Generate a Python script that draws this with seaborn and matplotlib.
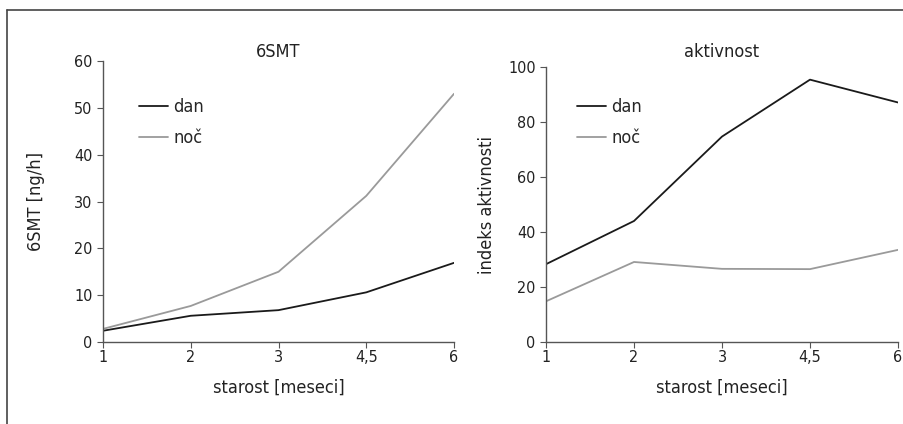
import matplotlib
matplotlib.use("Agg")
import matplotlib.pyplot as plt
import seaborn as sns
import pandas as pd
from matplotlib.lines import Line2D

months = ["1", "2", "3", "4,5", "6"]
smt_dan = [2.4, 5.6, 6.8, 10.6, 16.9]
smt_noc = [2.8, 7.7, 15.0, 31.2, 53.0]
akt_dan = [28.3, 44.0, 74.7, 95.4, 87.1]
akt_noc = [14.8, 29.1, 26.6, 26.5, 33.5]
series = ["dan", "noč"]

sns.set_theme(style="ticks")
plt.rcParams["font.family"] = ["DejaVu Sans"]
plt.rcParams["font.stretch"] = "condensed"

colors = {"dan": "#1a1a1a", "noč": "#9a9a9a"}

def make_df(dan, noc):
    return pd.DataFrame({
        "starost": months * 2,
        "value": dan + noc,
        "serija": ["dan"] * len(months) + ["noč"] * len(months),
    })

fig = plt.figure(figsize=(9.04, 4.24), dpi=100)
W, H = 904, 424
ax1 = fig.add_axes([103 / W, 1 - 342 / H, (454 - 103) / W, (342 - 61) / H])
ax2 = fig.add_axes([546 / W, 1 - 342 / H, (898 - 546) / W, (342 - 67) / H])

panels = [
    (ax1, make_df(smt_dan, smt_noc), "6SMT", "6SMT [ng/h]", (0, 60), [0, 10, 20, 30, 40, 50, 60], 61),
    (ax2, make_df(akt_dan, akt_noc), "aktivnost", "indeks aktivnosti", (0, 100), [0, 20, 40, 60, 80, 100], 67),
]

for ax, df, title, ylabel, ylim, yticks, top in panels:
    sns.lineplot(data=df, x="starost", y="value", hue="serija", palette=colors,
                 linewidth=1.3, ax=ax, legend=False, sort=False)
    ax.set_xlim(0, len(months) - 1)
    ax.set_ylim(*ylim)
    ax.set_yticks(yticks)
    hpx = 342 - top
    pos = ax.get_position()
    fig.text(pos.x0 + pos.width / 2, 1 - 52 / H, title, fontsize=13, ha="center", va="center", color="#222222")
    ax.set_xlabel("starost [meseci]", fontsize=13, color="#222222")
    ax.set_ylabel(ylabel, fontsize=13, color="#222222")
    ax.xaxis.set_label_coords(0.5, -(379 - 342) / hpx)
    for s in ["top", "right"]:
        ax.spines[s].set_visible(False)
    for s in ["left", "bottom"]:
        ax.spines[s].set_color("#555555")
        ax.spines[s].set_linewidth(1.0)
    ax.tick_params(axis="both", labelsize=11.5, length=4, width=0.8, color="#555555", colors="#222222")
    ax.tick_params(axis="x", pad=2)
    handles = [Line2D([], [], color=colors[s], lw=1.3) for s in series]
    lx = (139 - 103) / 351 if ax is ax1 else (577 - 546) / 352
    ly = (342 - 98) / hpx
    ax.legend(handles, series, loc="upper left", bbox_to_anchor=(lx, ly), frameon=False,
              fontsize=13, handlelength=1.6, handletextpad=0.3, labelspacing=0.71,
              borderpad=0, borderaxespad=0)

ax1.yaxis.set_label_coords(-(103 - 45) / 351, 0.5)
ax2.yaxis.set_label_coords(-(546 - 496) / 352, 0.5)

# frame lines of figure (top and left)
fig.add_artist(Line2D([7 / W, 1], [1 - 9.5 / H, 1 - 9.5 / H], color="#444444", lw=1.2, transform=fig.transFigure))
fig.add_artist(Line2D([7 / W, 7 / W], [1 - 9.5 / H, 0], color="#444444", lw=1.2, transform=fig.transFigure))

fig.savefig("out.png", dpi=100)
